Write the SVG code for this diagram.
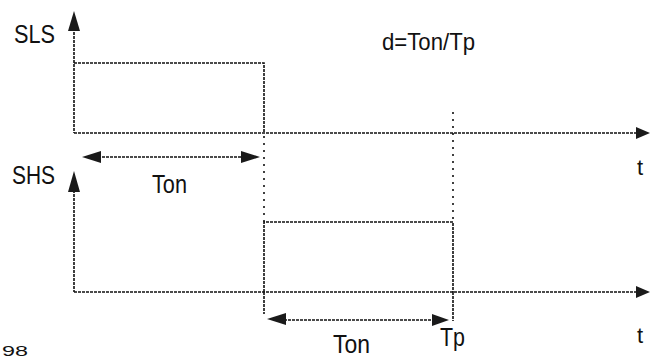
<svg xmlns="http://www.w3.org/2000/svg" width="650" height="358" viewBox="0 0 650 358">
<style>
.ln{stroke:#111;stroke-width:1.6;fill:none;stroke-dasharray:3 1}
.dt{stroke:#111;stroke-width:1.6;fill:none;stroke-dasharray:2 5}
.ah{fill:#1a1a1a}
text{font-family:"Liberation Sans",Arial,sans-serif;fill:#111}
</style>
<rect width="650" height="358" fill="#fff"/>
<g id="sls-axes">
<line class="ln" x1="74" y1="28" x2="74" y2="133"/>
<polygon class="ah" points="74,11 68,31 80,31"/>
<line class="ln" x1="74" y1="133" x2="636" y2="133"/>
<polygon class="ah" points="650,133 636,127 636,139"/>
<text x="14" y="43" font-size="25" textLength="41" lengthAdjust="spacingAndGlyphs">SLS</text>
<text x="637" y="175" font-size="22">t</text>
</g>
<g id="sls-pulse">
<polyline class="ln" points="74,63 264,63 264,133"/>
</g>
<g id="shs-axes">
<line class="ln" x1="74" y1="190" x2="74" y2="292"/>
<polygon class="ah" points="74,171 68,192 80,192"/>
<line class="ln" x1="74" y1="292" x2="636" y2="292"/>
<polygon class="ah" points="650,292 636,286 636,298"/>
<text x="12" y="184" font-size="25" textLength="43" lengthAdjust="spacingAndGlyphs">SHS</text>
<text x="637" y="343" font-size="22">t</text>
</g>
<g id="shs-pulse">
<polyline class="ln" points="264,292 264,222 453,222 453,292"/>
</g>
<g id="connectors">
<line class="dt" x1="264" y1="136" x2="264" y2="222"/>
<line class="ln" x1="264" y1="292" x2="264" y2="314"/>
<line class="dt" x1="453" y1="112" x2="453" y2="222"/>
<line class="ln" x1="453" y1="292" x2="453" y2="321"/>
<line class="ln" x1="98" y1="157" x2="244" y2="157"/>
<polygon class="ah" points="82,157 101,151 101,163"/>
<polygon class="ah" points="260,157 241,151 241,163"/>
<line class="ln" x1="284" y1="320" x2="432" y2="320"/>
<polygon class="ah" points="267,319 286,313 286,325"/>
<polygon class="ah" points="449,320 432,314 432,326"/>
</g>
<g id="labels">
<text x="382" y="50" font-size="24" textLength="93" lengthAdjust="spacingAndGlyphs">d=Ton/Tp</text>
<text x="152" y="193" font-size="26" textLength="35" lengthAdjust="spacingAndGlyphs">Ton</text>
<text x="333" y="353" font-size="26" textLength="37" lengthAdjust="spacingAndGlyphs">Ton</text>
<text x="440" y="346" font-size="26" textLength="25" lengthAdjust="spacingAndGlyphs">Tp</text>
<text x="2" y="356" font-size="14" textLength="26" lengthAdjust="spacingAndGlyphs">98</text>
</g>
</svg>
